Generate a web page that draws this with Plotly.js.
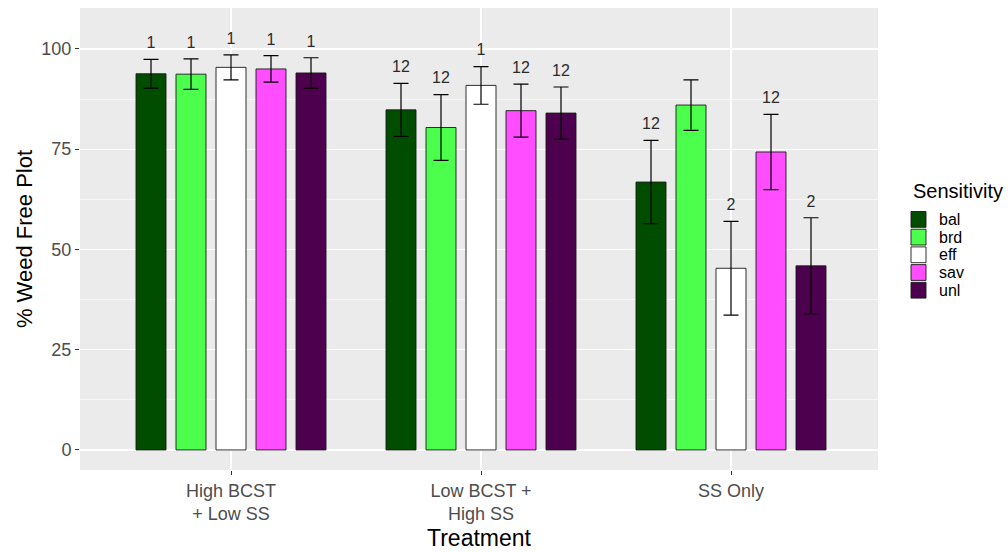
<!DOCTYPE html>
<html>
<head>
<meta charset="utf-8">
<script src="https://cdn.plot.ly/plotly-3.0.1.min.js"></script>
<style>
  html, body { margin: 0; padding: 0; background: #ffffff; }
  #chart { width: 1008px; height: 552px; }
</style>
</head>
<body>
<div id="chart"></div>
<script>
// ---- data ----
const treatments = ["High BCST<br>+ Low SS", "Low BCST +<br>High SS", "SS Only"];
const sensitivities = ["bal", "brd", "eff", "sav", "unl"];

const balMean = [93.8, 84.8, 66.8];
const balSE   = [3.6, 6.6, 10.4];
const brdMean = [93.7, 80.4, 86.0];
const brdSE   = [3.8, 8.2, 6.3];
const effMean = [95.4, 90.9, 45.3];
const effSE   = [3.1, 4.7, 11.7];
const savMean = [95.0, 84.6, 74.3];
const savSE   = [3.3, 6.6, 9.4];
const unlMean = [94.0, 84.0, 45.9];
const unlSE   = [3.8, 6.5, 12.0];

const balN = ["1", "12", "12"];
const brdN = ["1", "12", ""];
const effN = ["1", "1", "2"];
const savN = ["1", "12", "12"];
const unlN = ["1", "12", "2"];

// ---- styles ----
const fillColors = {bal: "#004D00", brd: "#4DFF4D", eff: "#FFFFFF", sav: "#FF4DFF", unl: "#4D004D"};
const means = {bal: balMean, brd: brdMean, eff: effMean, sav: savMean, unl: unlMean};
const ses   = {bal: balSE,   brd: brdSE,   eff: effSE,   sav: savSE,   unl: unlSE};
const ns    = {bal: balN,    brd: brdN,    eff: effN,    sav: savN,    unl: unlN};

const FONT = "Liberation Sans, Arial, sans-serif";
const labelLift = 1.3; // gap (in y units) between error bar top and count label

const W = 1008, H = 552;
const M = {l: 80, r: 130, t: 8, b: 82};
const plotW = W - M.l - M.r, plotH = H - M.t - M.b;
function px2paperX(px) { return (px - M.l) / plotW; }
function px2paperY(py) { return 1 - (py - M.t) / plotH; }

const traces = [];
sensitivities.forEach(function (s) {
  traces.push({
    type: "bar",
    name: s,
    x: treatments,
    y: means[s],
    offsetgroup: s,
    marker: {color: fillColors[s], line: {color: "#1a1a1a", width: 0.9}},
    error_y: {type: "data", array: ses[s], visible: true, color: "#000000", thickness: 1.2, width: 7.5},
    hoverinfo: "x+y+name"
  });
});
sensitivities.forEach(function (s) {
  traces.push({
    type: "bar",
    name: s + " n",
    x: treatments,
    y: means[s].map(function (m, i) { return m + ses[s][i] + labelLift; }),
    offsetgroup: s,
    text: ns[s],
    textposition: "outside",
    constraintext: "none",
    cliponaxis: false,
    textfont: {family: FONT, size: 16, color: "#2b2b2b"},
    marker: {color: "rgba(0,0,0,0)", line: {width: 0}},
    showlegend: false,
    hoverinfo: "skip"
  });
});

// ---- legend drawn as shapes + annotations (ggplot-like compact keys) ----
const shapes = [];
const annotations = [{
  xref: "paper", yref: "paper",
  x: px2paperX(911), y: px2paperY(191),
  xanchor: "left", yanchor: "middle",
  text: "Sensitivity", showarrow: false,
  font: {family: FONT, size: 20, color: "#000000"}
}];
const keyTop = 211.5, keyStep = 17.7, keyH = 15.8;
sensitivities.forEach(function (s, i) {
  const top = keyTop + i * keyStep;
  shapes.push({
    type: "rect", xref: "paper", yref: "paper", layer: "above",
    x0: px2paperX(911), x1: px2paperX(926),
    y0: px2paperY(top), y1: px2paperY(top + keyH),
    fillcolor: fillColors[s], line: {color: "#1a1a1a", width: 0.9}
  });
  annotations.push({
    xref: "paper", yref: "paper",
    x: px2paperX(937), y: px2paperY(top + keyH / 2),
    xanchor: "left", yanchor: "middle",
    text: s, showarrow: false,
    font: {family: FONT, size: 16, color: "#000000"}
  });
});

const layout = {
  width: W,
  height: H,
  margin: M,
  paper_bgcolor: "#FFFFFF",
  plot_bgcolor: "#EBEBEB",
  font: {family: FONT, color: "#4D4D4D"},
  barmode: "group",
  bargap: 0.2,
  bargroupgap: 0.25,
  showlegend: false,
  shapes: shapes,
  annotations: annotations,
  xaxis: {
    type: "category",
    range: [-0.604, 2.588],
    showgrid: true,
    gridcolor: "#FFFFFF",
    gridwidth: 1.2,
    zeroline: false,
    showline: false,
    ticks: "outside",
    ticklen: 4,
    tickwidth: 1,
    tickcolor: "#333333",
    tickfont: {family: FONT, size: 18, color: "#4D4D4D"},
    title: {text: "Treatment", font: {family: FONT, size: 23, color: "#000000"}, standoff: 6}
  },
  yaxis: {
    range: [-5.0, 110.2],
    tickvals: [0, 25, 50, 75, 100],
    showgrid: true,
    gridcolor: "#FFFFFF",
    gridwidth: 1.2,
    zeroline: false,
    showline: false,
    ticks: "outside",
    ticklen: 4,
    tickwidth: 1,
    tickcolor: "#333333",
    tickfont: {family: FONT, size: 18, color: "#4D4D4D"},
    minor: {tickvals: [12.5, 37.5, 62.5, 87.5], showgrid: true, gridcolor: "#FFFFFF", gridwidth: 0.6, ticks: ""},
    title: {text: "% Weed Free Plot", font: {family: FONT, size: 22, color: "#000000"}, standoff: 2}
  }
};

Plotly.newPlot("chart", traces, layout, {displayModeBar: false, staticPlot: true});
</script>
</body>
</html>
